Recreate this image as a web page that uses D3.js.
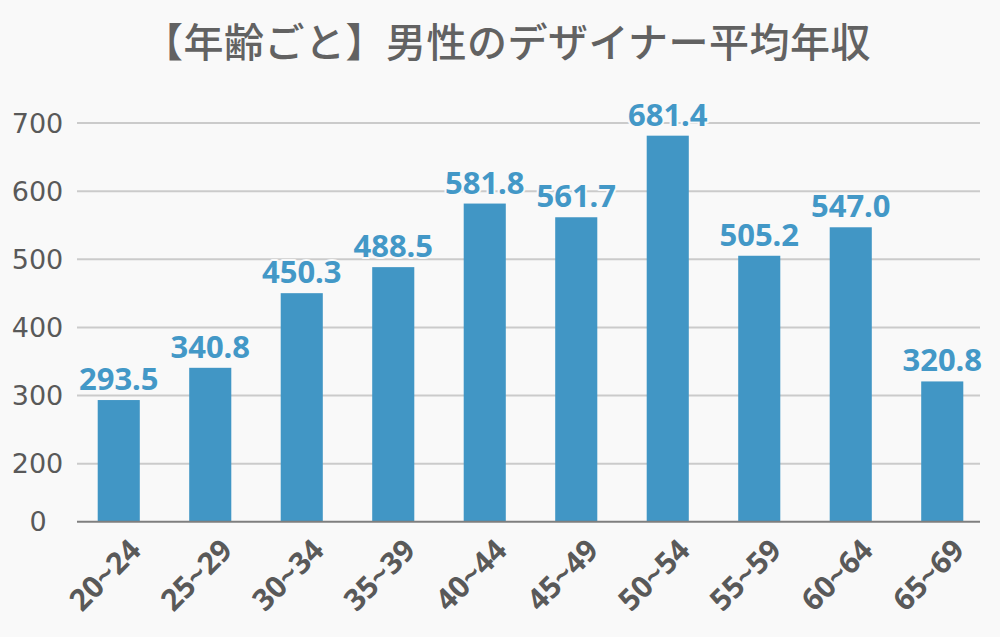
<!DOCTYPE html>
<html>
<head>
<meta charset="utf-8">
<script src="https://cdn.jsdelivr.net/npm/d3@7"></script>
<style>
  html, body { margin: 0; padding: 0; background: #f9f9f9; }
  svg { display: block; }
</style>
</head>
<body>
<svg id="chart" width="1000" height="637"></svg>
<script>
const title = "【年齢ごと】男性のデザイナー平均年収";
const categories = ["20~24", "25~29", "30~34", "35~39", "40~44", "45~49", "50~54", "55~59", "60~64", "65~69"];
const values = [293.5, 340.8, 450.3, 488.5, 581.8, 561.7, 681.4, 505.2, 547.0, 320.8];
const tickValues = [200, 300, 400, 500, 600, 700];
const baseLabel = "0";

const svg = d3.select("#chart");
svg.append("rect").attr("width", 1000).attr("height", 637).attr("fill", "#f9f9f9");

const x = d3.scaleBand().domain(categories).range([73, 988]).paddingInner(0.54).paddingOuter(0.27);
const y = d3.scaleLinear().domain([115, 700]).range([521.7, 123]);

const gridX0 = 77, gridX1 = 980;

// title
svg.append("text")
  .attr("x", 507).attr("y", 57)
  .attr("text-anchor", "middle")
  .attr("font-family", "'Noto Sans CJK JP', sans-serif")
  .attr("font-weight", 500)
  .attr("font-size", 40)
  .attr("letter-spacing", 0.5)
  .attr("fill", "#626262")
  .text(title);

// gridlines
svg.append("g").selectAll("line").data(tickValues).join("line")
  .attr("x1", gridX0).attr("x2", gridX1)
  .attr("y1", d => y(d)).attr("y2", d => y(d))
  .attr("stroke", "#cbcbcb").attr("stroke-width", 2);

// y labels
const yl = svg.append("g")
  .attr("font-family", "'DejaVu Sans', sans-serif")
  .attr("font-size", 27)
  .attr("fill", "#595959")
  .attr("text-anchor", "middle");
yl.selectAll("text").data(tickValues).join("text")
  .attr("x", 37.5).attr("y", d => y(d)).attr("dy", "0.36em")
  .text(d => d);
yl.append("text").attr("x", 38).attr("y", y.range()[0]).attr("dy", "0.36em").text(baseLabel);

// bars
svg.append("g").selectAll("rect").data(values).join("rect")
  .attr("x", (d, i) => x(categories[i]))
  .attr("width", x.bandwidth())
  .attr("y", d => y(d))
  .attr("height", d => y.range()[0] - y(d))
  .attr("fill", "#4196c5");

// baseline
svg.append("line")
  .attr("x1", gridX0).attr("x2", gridX1)
  .attr("y1", y.range()[0]).attr("y2", y.range()[0])
  .attr("stroke", "#7f7f7f").attr("stroke-width", 2);

// value labels
svg.append("g").selectAll("text").data(values).join("text")
  .attr("x", (d, i) => x(categories[i]) + x.bandwidth() / 2)
  .attr("y", d => y(d) - 10)
  .attr("text-anchor", "middle")
  .attr("font-family", "'Noto Sans', sans-serif")
  .attr("font-weight", 700)
  .attr("font-size", 31)
  .attr("fill", "#4398c7")
  .attr("stroke", "#f9f9f9").attr("stroke-width", 4)
  .attr("paint-order", "stroke")
  .attr("stroke-linejoin", "round")
  .text(d => d.toFixed(1));

// x labels
svg.append("g").selectAll("text").data(categories).join("text")
  .attr("transform", d => `translate(${x(d) + x.bandwidth() / 2 + 24},552) rotate(-45)`)
  .attr("text-anchor", "end")
  .attr("font-family", "'Noto Sans', sans-serif")
  .attr("font-weight", 700)
  .attr("font-size", 30)
  .attr("fill", "#595959")
  .text(d => d);
</script>
</body>
</html>
